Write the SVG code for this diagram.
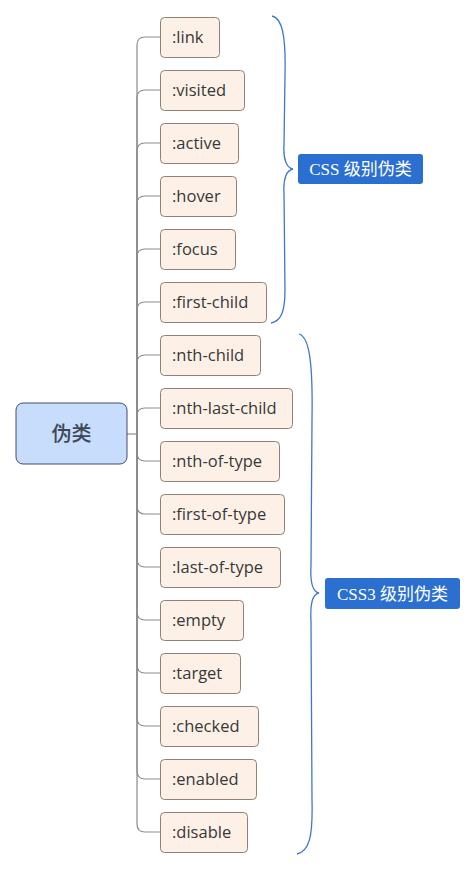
<svg xmlns="http://www.w3.org/2000/svg" width="476" height="870" viewBox="0 0 476 870">
<style>
.leaf rect{fill:#fdf1e7;stroke:#8f8175;stroke-width:1}
.leaf text{font-family:"Open Sans","Noto Sans",sans-serif;font-size:16.5px;fill:#383838}
.conn path{fill:none;stroke:#8c8c8c;stroke-width:1.2}
.brace{fill:none;stroke:#3f78c8;stroke-width:1.3}
.lbl rect{fill:#2b6fd0}
.lbl text{font-family:"Liberation Serif","Noto Sans CJK SC",serif;font-size:17px;fill:#ffffff}
</style>
<rect width="476" height="870" fill="#ffffff"/>
<g id="connectors" class="conn">
<path d="M127,434 H137"/>
<path d="M137,434 V45 Q137,37 145,37 H160"/>
<path d="M137,434 V98 Q137,90 145,90 H160"/>
<path d="M137,434 V151 Q137,143 145,143 H160"/>
<path d="M137,434 V204 Q137,196 145,196 H160"/>
<path d="M137,434 V257 Q137,249 145,249 H160"/>
<path d="M137,434 V310 Q137,302 145,302 H160"/>
<path d="M137,434 V363 Q137,355 145,355 H160"/>
<path d="M137,434 V416 Q137,408 145,408 H160"/>
<path d="M137,434 V453 Q137,461 145,461 H160"/>
<path d="M137,434 V506 Q137,514 145,514 H160"/>
<path d="M137,434 V559 Q137,567 145,567 H160"/>
<path d="M137,434 V612 Q137,620 145,620 H160"/>
<path d="M137,434 V665 Q137,673 145,673 H160"/>
<path d="M137,434 V718 Q137,726 145,726 H160"/>
<path d="M137,434 V771 Q137,779 145,779 H160"/>
<path d="M137,434 V824 Q137,832 145,832 H160"/>
</g>
<g id="root">
<rect x="16" y="403" width="111" height="61" rx="7" fill="#c8dcfb" stroke="#3e4d6e" stroke-width="1"/>
<text x="71.5" y="441" text-anchor="middle" font-family="'Noto Sans CJK SC',sans-serif" font-size="20" font-weight="500" fill="#3d4758">伪类</text>
</g>
<g id="n-link" class="leaf"><rect x="160.5" y="17.5" width="59" height="40" rx="4"/><text x="172" y="43">:link</text></g>
<g id="n-visited" class="leaf"><rect x="160.5" y="70.5" width="84" height="40" rx="4"/><text x="172" y="96">:visited</text></g>
<g id="n-active" class="leaf"><rect x="160.5" y="123.5" width="78" height="40" rx="4"/><text x="172" y="149">:active</text></g>
<g id="n-hover" class="leaf"><rect x="160.5" y="176.5" width="76" height="40" rx="4"/><text x="172" y="202">:hover</text></g>
<g id="n-focus" class="leaf"><rect x="160.5" y="229.5" width="75" height="40" rx="4"/><text x="172" y="255">:focus</text></g>
<g id="n-first-child" class="leaf"><rect x="160.5" y="282.5" width="106" height="40" rx="4"/><text x="172" y="308">:first-child</text></g>
<g id="n-nth-child" class="leaf"><rect x="160.5" y="335.5" width="100" height="40" rx="4"/><text x="172" y="361">:nth-child</text></g>
<g id="n-nth-last-child" class="leaf"><rect x="160.5" y="388.5" width="132" height="40" rx="4"/><text x="172" y="414">:nth-last-child</text></g>
<g id="n-nth-of-type" class="leaf"><rect x="160.5" y="441.5" width="119" height="40" rx="4"/><text x="172" y="467">:nth-of-type</text></g>
<g id="n-first-of-type" class="leaf"><rect x="160.5" y="494.5" width="124" height="40" rx="4"/><text x="172" y="520">:first-of-type</text></g>
<g id="n-last-of-type" class="leaf"><rect x="160.5" y="547.5" width="120" height="40" rx="4"/><text x="172" y="573">:last-of-type</text></g>
<g id="n-empty" class="leaf"><rect x="160.5" y="600.5" width="83" height="40" rx="4"/><text x="172" y="626">:empty</text></g>
<g id="n-target" class="leaf"><rect x="160.5" y="653.5" width="80" height="40" rx="4"/><text x="172" y="679">:target</text></g>
<g id="n-checked" class="leaf"><rect x="160.5" y="706.5" width="98" height="40" rx="4"/><text x="172" y="732">:checked</text></g>
<g id="n-enabled" class="leaf"><rect x="160.5" y="759.5" width="96" height="40" rx="4"/><text x="172" y="785">:enabled</text></g>
<g id="n-disable" class="leaf"><rect x="160.5" y="812.5" width="87" height="40" rx="4"/><text x="172" y="838">:disable</text></g>
<g id="brace-css">
<path class="brace" d="M272,16 C282,18 286,35 285,75 L284,145 C283,160 287,168 293,169 C287,170 283,178 284,193 L285,290 C285,312 281,321 271,323"/>
</g>
<g id="label-css" class="lbl">
<rect x="298" y="154" width="125" height="30" rx="3"/>
<text x="360.5" y="175" text-anchor="middle">CSS 级别伪类</text>
</g>
<g id="brace-css3">
<path class="brace" d="M299,334 C309,337 313,360 312,420 L311,565 C310,583 313,592 319,593 C313,594 310,603 311,621 L312,800 C313,838 309,851 297,854"/>
</g>
<g id="label-css3" class="lbl">
<rect x="325" y="578" width="135" height="31" rx="3"/>
<text x="392.5" y="599.5" text-anchor="middle">CSS3 级别伪类</text>
</g>
</svg>
